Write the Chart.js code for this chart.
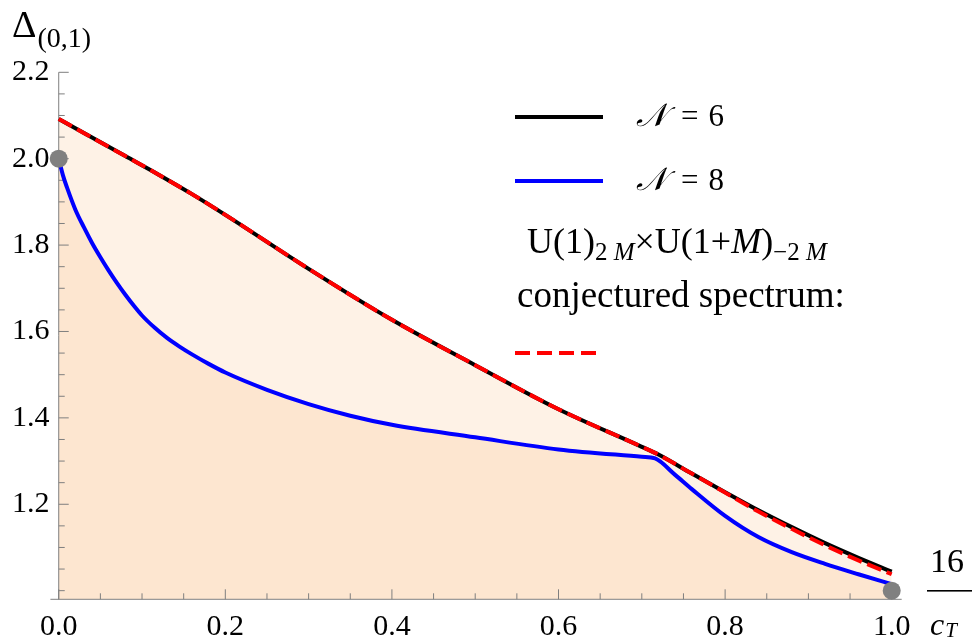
<!DOCTYPE html>
<html>
<head>
<meta charset="utf-8">
<script src="https://cdn.jsdelivr.net/npm/chart.js@4/dist/chart.umd.min.js"></script>
<style>
  html, body { margin: 0; padding: 0; background: #fff; }
  #wrap { width: 972px; height: 642px; }
</style>
</head>
<body>
<div id="wrap"><canvas id="chart" width="972" height="642"></canvas></div>
<script>
// values (x = 16/c_T, y = Delta_(0,1))
const n6X = [0, 0.04, 0.08, 0.12, 0.16, 0.2, 0.3, 0.4, 0.5, 0.6, 0.7, 0.72, 0.76, 0.8, 0.84, 0.88, 0.92, 0.96, 1.0];
const n6Y = [2.092, 2.049, 2.006, 1.963, 1.918, 1.870, 1.745, 1.627, 1.522, 1.420, 1.333, 1.315, 1.271, 1.228, 1.186, 1.147, 1.110, 1.076, 1.044];

const n8X = [0, 0.005, 0.01, 0.02, 0.03, 0.04, 0.05, 0.06, 0.07, 0.08, 0.09, 0.1, 0.115, 0.13, 0.145, 0.16, 0.18, 0.2, 0.25, 0.3, 0.35, 0.4, 0.5, 0.6, 0.7, 0.716, 0.74, 0.76, 0.8, 0.84, 0.88, 0.92, 0.96, 1.0];
const n8Y = [2.0, 1.962, 1.933, 1.882, 1.842, 1.805, 1.772, 1.741, 1.712, 1.685, 1.660, 1.637, 1.609, 1.585, 1.565, 1.547, 1.525, 1.505, 1.465, 1.432, 1.405, 1.384, 1.355, 1.327, 1.310, 1.306, 1.268, 1.235, 1.173, 1.124, 1.089, 1.062, 1.038, 1.015];

const conjX = [0, 0.04, 0.08, 0.12, 0.16, 0.2, 0.3, 0.4, 0.5, 0.6, 0.7, 0.72, 0.76, 0.8, 0.84, 0.88, 0.92, 0.96, 1.0];
const conjY = [2.092, 2.049, 2.006, 1.963, 1.918, 1.870, 1.745, 1.627, 1.522, 1.420, 1.333, 1.315, 1.271, 1.227, 1.183, 1.143, 1.105, 1.070, 1.038];

const dotX = [0, 1.0];
const dotY = [2.0, 1.0];

const xTicks = [0, 0.2, 0.4, 0.6, 0.8, 1.0];
const yTicks = [1.2, 1.4, 1.6, 1.8, 2.0, 2.2];

const SERIF = '"Liberation Serif", "Times New Roman", Times, "DejaVu Serif", serif';

const toPoints = (xs, ys) => xs.map((x, i) => ({ x: x, y: ys[i] }));

// draw a row of text pieces one after another (for subscripts)
function drawRuns(ctx, x, y, runs) {
    runs.forEach(r => {
        ctx.font = r.font;
        ctx.fillText(r.text, x, y + (r.dy || 0));
        x += ctx.measureText(r.text).width + (r.gap || 0);
    });
}

// axes with inward ticks, Mathematica style
const axesPlugin = {
    id: 'axes',
    beforeDatasetsDraw(chart) {
        const ctx = chart.ctx;
        const xs = chart.scales.x, ys = chart.scales.y;
        const x0 = xs.getPixelForValue(0);
        const yb = ys.getPixelForValue(ys.min);
        ctx.save();
        ctx.strokeStyle = '#7f7f7f';
        ctx.lineWidth = 1;
        ctx.beginPath();
        ctx.moveTo(xs.left, yb);
        ctx.lineTo(xs.right, yb);
        ctx.moveTo(x0, yb);
        ctx.lineTo(x0, ys.getPixelForValue(2.2));
        for (let i = 0; i <= 20; i++) {
            const px = xs.getPixelForValue(i * 0.05);
            const len = i % 4 === 0 ? 10 : 6;
            ctx.moveTo(px, yb);
            ctx.lineTo(px, yb - len);
        }
        for (let i = 0; i <= 24; i++) {
            const py = ys.getPixelForValue(1.0 + i * 0.05);
            const len = (i % 4 === 0 && i > 0) ? 10 : 6;
            ctx.moveTo(x0, py);
            ctx.lineTo(x0 + len, py);
        }
        ctx.stroke();
        ctx.restore();
    },
    afterDraw(chart) {
        const ctx = chart.ctx;
        ctx.save();
        ctx.fillStyle = '#000';
        ctx.textBaseline = 'alphabetic';

        // y axis label
        drawRuns(ctx, 12, 37, [
            { text: 'Δ', font: '38px ' + SERIF, gap: 1 },
            { text: '(0,1)', font: '28px ' + SERIF, dy: 10 }
        ]);

        // x axis label 16 / c_T
        ctx.font = '34px ' + SERIF;
        ctx.fillText('16', 930, 572);
        ctx.fillRect(927, 590, 45, 1.6);
        drawRuns(ctx, 930, 635, [
            { text: 'c', font: 'italic 32px ' + SERIF, gap: 1 },
            { text: 'T', font: 'italic 21px ' + SERIF, dy: 2 }
        ]);

        // legend
        const legendLines = [
            { y: 117, color: '#000', dash: [] },
            { y: 181, color: '#0000ff', dash: [] },
            { y: 353, color: '#ff0000', dash: [15, 7] }
        ];
        legendLines.forEach(l => {
            ctx.strokeStyle = l.color;
            ctx.lineWidth = 4;
            ctx.setLineDash(l.dash);
            ctx.beginPath();
            ctx.moveTo(515, l.y);
            ctx.lineTo(l.dash.length ? 597 : 603, l.y);
            ctx.stroke();
        });
        ctx.setLineDash([]);

        drawRuns(ctx, 636, 126, [
            { text: '𝒩 ', font: 'italic 32px ' + SERIF, gap: 6 },
            { text: '=', font: '31px ' + SERIF, gap: 10 },
            { text: '6', font: '31px ' + SERIF }
        ]);
        drawRuns(ctx, 636, 190, [
            { text: '𝒩 ', font: 'italic 32px ' + SERIF, gap: 6 },
            { text: '=', font: '31px ' + SERIF, gap: 10 },
            { text: '8', font: '31px ' + SERIF }
        ]);
        drawRuns(ctx, 527, 253, [
            { text: 'U(1)', font: '36px ' + SERIF },
            { text: '2 ', font: '25px ' + SERIF, dy: 7 },
            { text: 'M', font: 'italic 25px ' + SERIF, dy: 7 },
            { text: '×U(1+', font: '36px ' + SERIF },
            { text: 'M', font: 'italic 36px ' + SERIF },
            { text: ')', font: '36px ' + SERIF },
            { text: '−2 ', font: '25px ' + SERIF, dy: 7 },
            { text: 'M', font: 'italic 25px ' + SERIF, dy: 7 }
        ]);
        ctx.font = '37px ' + SERIF;
        ctx.fillText('conjectured spectrum:', 517, 307);
        ctx.restore();
    }
};

new Chart(document.getElementById('chart'), {
    type: 'line',
    data: {
        datasets: [
            {
                label: 'endpoints',
                data: toPoints(dotX, dotY),
                showLine: false,
                pointRadius: 9,
                pointBackgroundColor: '#808080',
                pointBorderWidth: 0,
                fill: false,
                clip: false
            },
            {
                label: 'conjectured',
                data: toPoints(conjX, conjY),
                borderColor: '#ff0000',
                borderWidth: 4,
                borderDash: [15, 6],
                pointRadius: 0,
                cubicInterpolationMode: 'monotone',
                fill: false
            },
            {
                label: 'N = 8',
                data: toPoints(n8X, n8Y),
                borderColor: '#0000ff',
                borderWidth: 4,
                pointRadius: 0,
                cubicInterpolationMode: 'monotone',
                fill: 'start',
                backgroundColor: '#fde6d0'
            },
            {
                label: 'N = 6',
                data: toPoints(n6X, n6Y),
                borderColor: '#000000',
                borderWidth: 4,
                pointRadius: 0,
                cubicInterpolationMode: 'monotone',
                fill: 'start',
                backgroundColor: '#fef2e6'
            }
        ]
    },
    options: {
        responsive: false,
        animation: false,
        layout: { padding: { top: 72.3, right: 70.3, left: 0, bottom: 0 } },
        plugins: {
            legend: { display: false },
            tooltip: { enabled: false },
            filler: { drawTime: 'beforeDatasetsDraw' }
        },
        scales: {
            x: {
                type: 'linear',
                min: -0.01,
                max: 1.012,
                grid: { display: false, drawTicks: false },
                border: { display: false },
                afterFit: (scale) => { scale.height = 42.7; },
                afterBuildTicks: (scale) => { scale.ticks = xTicks.map(v => ({ value: v })); },
                ticks: {
                    padding: 10,
                    color: '#000',
                    font: { family: SERIF, size: 30 },
                    maxRotation: 0,
                    callback: (v) => Number(v).toFixed(1)
                }
            },
            y: {
                type: 'linear',
                min: 0.98,
                max: 2.2,
                grid: { display: false, drawTicks: false },
                border: { display: false },
                afterFit: (scale) => { scale.width = 50.4; },
                afterBuildTicks: (scale) => { scale.ticks = yTicks.map(v => ({ value: v })); },
                ticks: {
                    padding: 1,
                    color: '#000',
                    font: { family: SERIF, size: 30 },
                    callback: (v) => Number(v).toFixed(1)
                }
            }
        }
    },
    plugins: [axesPlugin]
});
</script>
</body>
</html>
